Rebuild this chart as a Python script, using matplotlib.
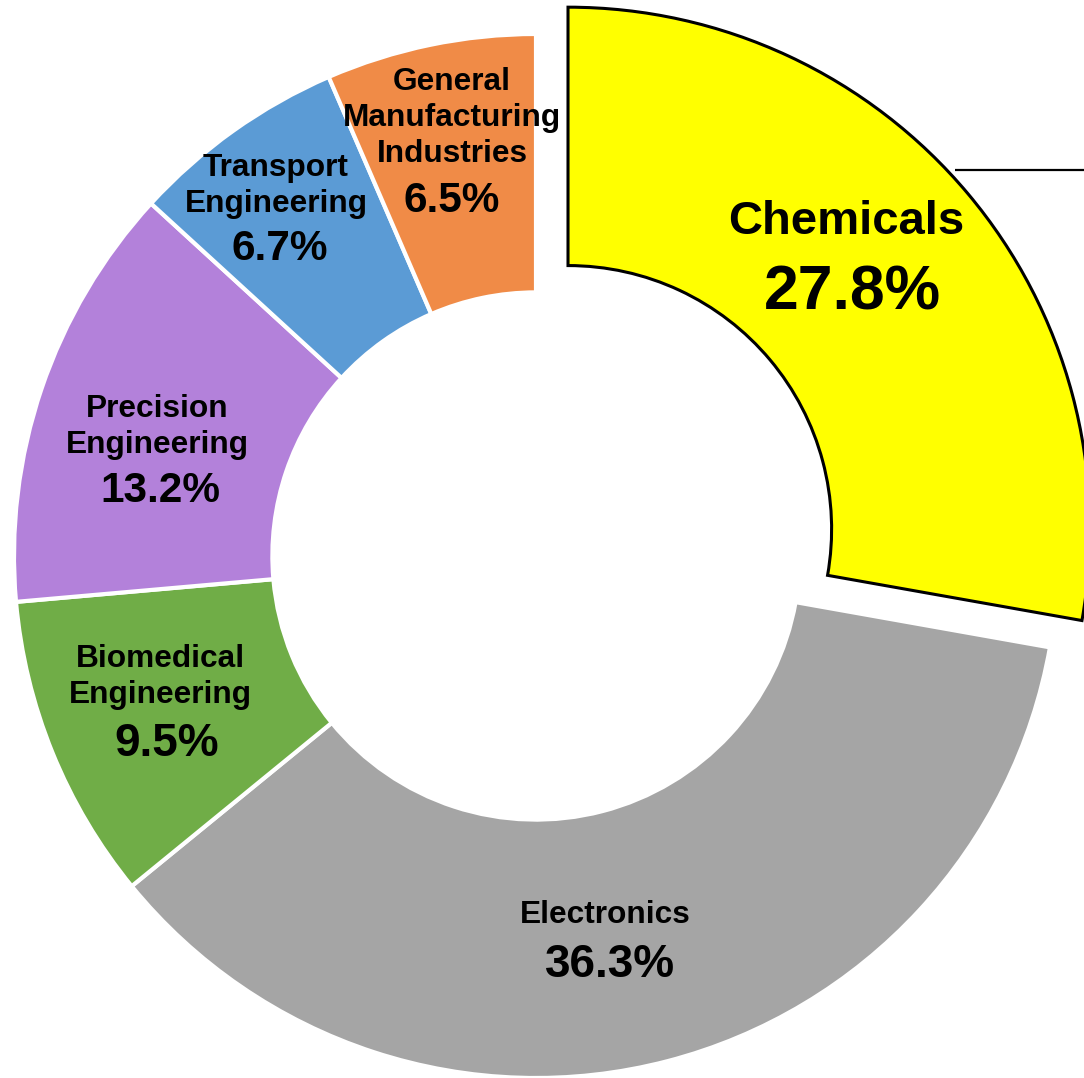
import matplotlib
matplotlib.use("Agg")
import matplotlib.pyplot as plt

plt.rcParams['font.family'] = ['Liberation Sans', 'DejaVu Sans']

categories = ["Chemicals", "Electronics", "Biomedical\nEngineering", "Precision\nEngineering",
              "Transport\nEngineering", "General\nManufacturing\nIndustries"]
values = [27.8, 36.3, 9.5, 13.2, 6.7, 6.5]
pct_labels = ["27.8%", "36.3%", "9.5%", "13.2%", "6.7%", "6.5%"]
colors = ["#FFFF00", "#A5A5A5", "#70AD47", "#B381DA", "#5B9BD5", "#F08B47"]
explode = [0.08, 0, 0, 0, 0, 0]

# pixel geometry of the reference
W, H = 1084, 1078
cx, cy, R = 536, 556, 522

fig = plt.figure(figsize=(W / 100, H / 100), dpi=100)
ax = fig.add_axes([0, 0, 1, 1])

wedges, _ = ax.pie(values, colors=colors, explode=explode, startangle=90, counterclock=False,
                   radius=1.0, wedgeprops=dict(width=0.495, edgecolor="white", linewidth=3))
wedges[0].set_edgecolor("black")
wedges[0].set_linewidth(2.2)
wedges[0].set_zorder(3)


def d(px, py):
    return (px - cx) / R, (cy - py) / R


# name label centers / pct label centers (pixel space of reference)
name_pos = [(846, 222), (605, 915), (160, 677), (157, 427), (276, 186), (452, 118)]
pct_pos = [(852, 293), (610, 965), (167, 744), (160, 491), (280, 249), (452, 201)]
name_size = [34, 22.8, 22.8, 22.8, 22.8, 22.8]
pct_size = [45, 33, 33, 30.5, 30.5, 30.5]

for i in range(len(values)):
    x, y = d(*name_pos[i])
    ax.text(x, y, categories[i], ha="center", va="center", fontsize=name_size[i],
            fontweight="bold", linespacing=1.25, zorder=5)
    x, y = d(*pct_pos[i])
    ax.text(x, y, pct_labels[i], ha="center", va="center", fontsize=pct_size[i],
            fontweight="bold", zorder=5)

# leader line at top right
x0, y0 = d(955, 170)
x1, _ = d(1090, 170)
ax.plot([x0, x1], [y0, y0], color="black", lw=1.6, zorder=4, solid_capstyle="butt")

ax.set_xlim(-cx / R, (W - cx) / R)
ax.set_ylim(-(H - cy) / R, cy / R)
ax.set_aspect("auto")
ax.axis("off")

fig.savefig("out.png", dpi=100, facecolor="white")
